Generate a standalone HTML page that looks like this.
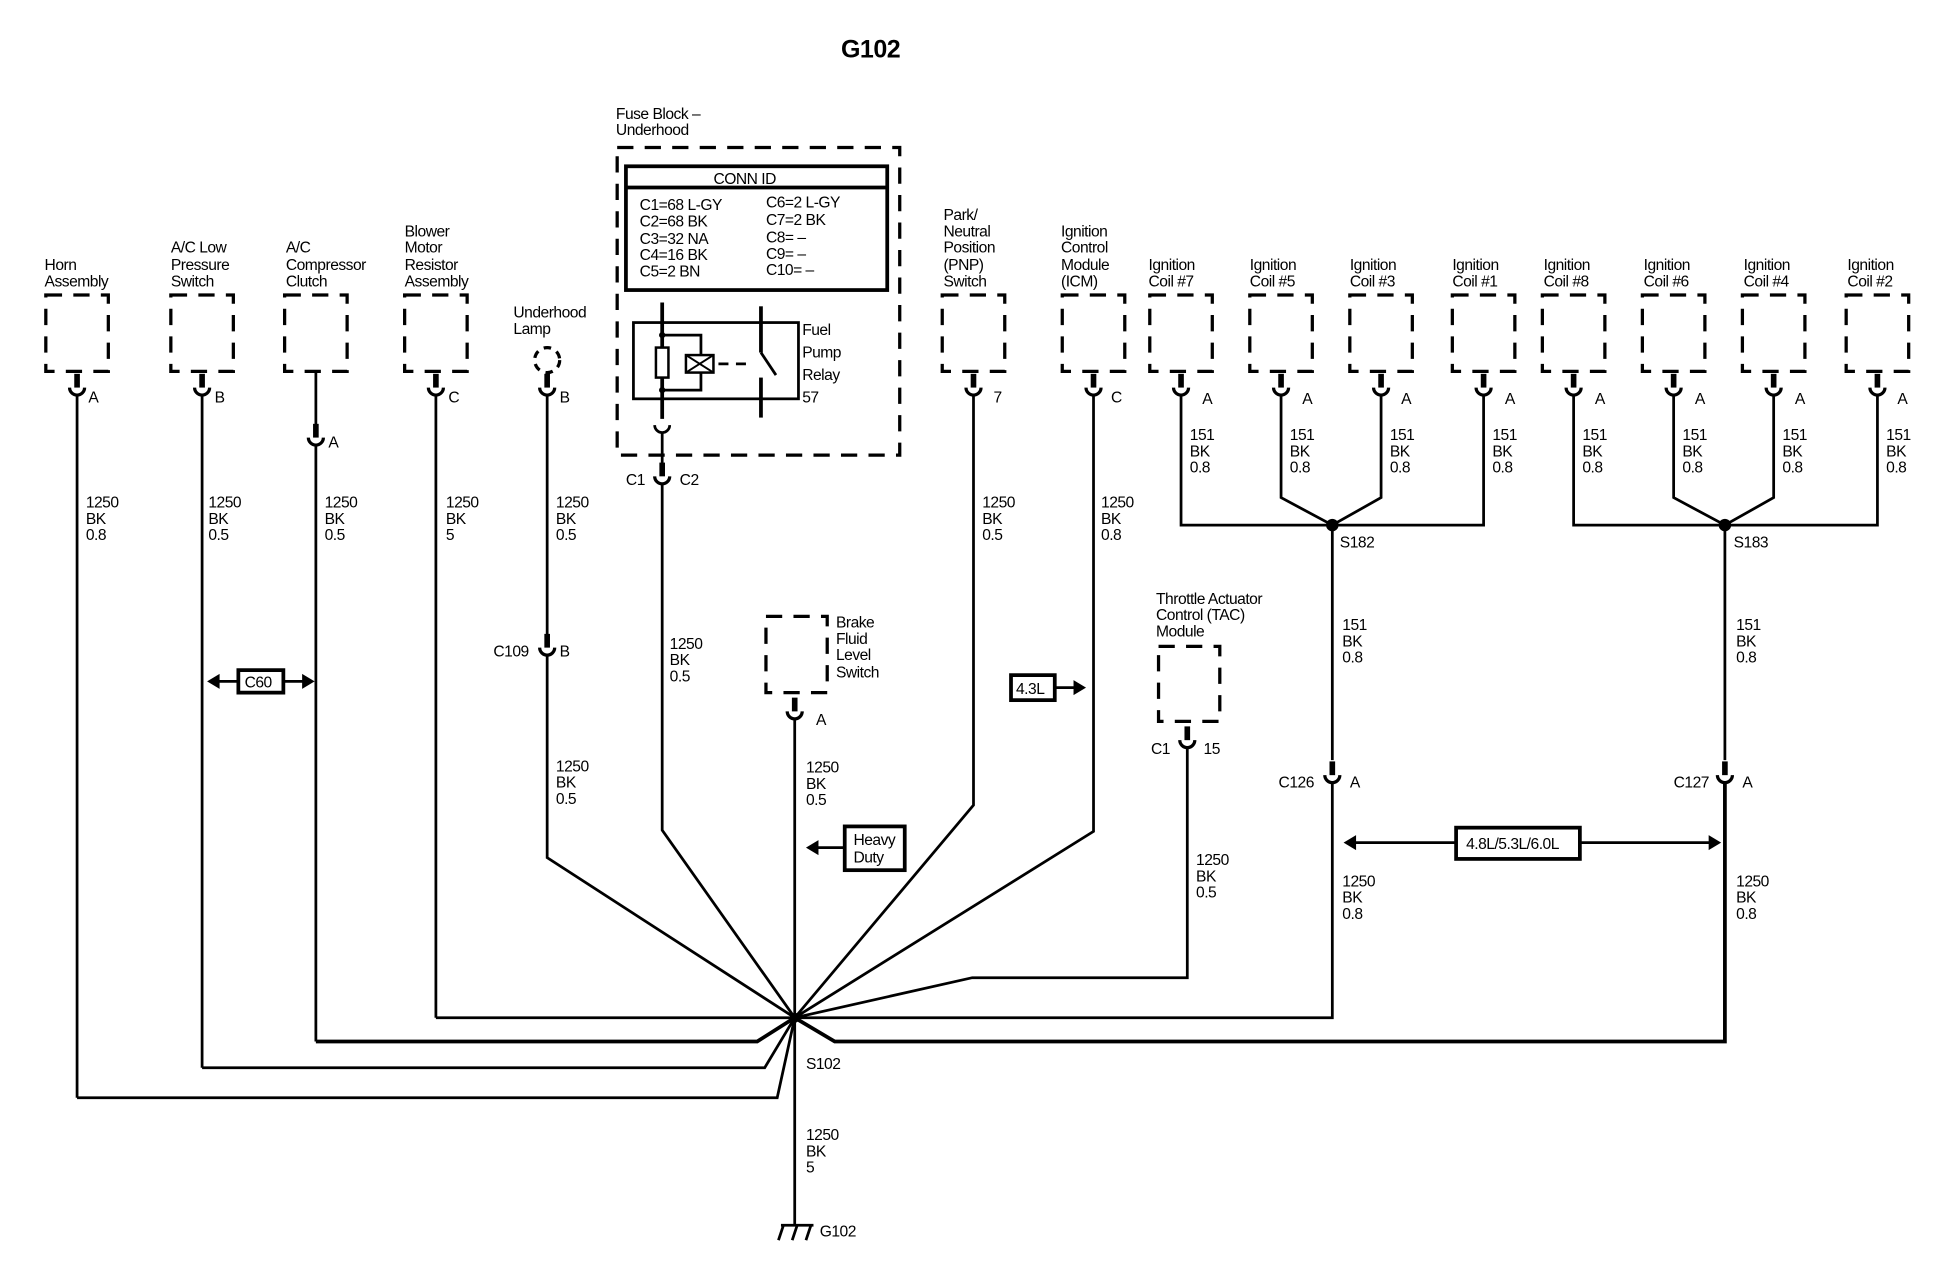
<!DOCTYPE html>
<html><head><meta charset="utf-8"><style>
html,body{margin:0;padding:0;background:#fff;}
svg{display:block;}
text{font-family:"Liberation Sans",Arial,sans-serif;font-size:12.5px;fill:#000;letter-spacing:-0.4px;}
.w{stroke:#000;stroke-width:2.2;fill:none;}
.t{stroke:#000;stroke-width:3;fill:none;}
.s{stroke:#000;stroke-width:4.5;fill:none;}
.d{stroke:#000;stroke-width:2.6;fill:none;stroke-dasharray:13 9;}
</style></head><body>
<svg width="1952" height="1264" viewBox="0 0 1560 1011" xmlns="http://www.w3.org/2000/svg">
<defs>
<g id="cup"><path d="M-6,0 A6,6 0 0 0 6,0" stroke="#000" stroke-width="2.6" fill="none"/><line x1="0" y1="-11" x2="0" y2="0" stroke="#000" stroke-width="4.5"/></g>
<g id="box"><rect x="-25" y="0" width="50" height="61" class="d"/></g>
</defs>
<text x="672" y="46" style="font-size:20px;font-weight:bold">G102</text>

<!-- left components -->
<text x="35" y="216">Horn</text><text x="35" y="229">Assembly</text>
<use href="#box" x="61" y="236"/><use href="#cup" x="61" y="310"/><text x="70" y="322">A</text>
<line class="w" x1="61" y1="316" x2="61" y2="878"/>
<text x="68" y="406">1250</text><text x="68" y="419">BK</text><text x="68" y="432">0.8</text>

<text x="136" y="202">A/C Low</text><text x="136" y="216">Pressure</text><text x="136" y="229">Switch</text>
<use href="#box" x="161" y="236"/><use href="#cup" x="161" y="310"/><text x="171" y="322">B</text>
<line class="w" x1="161" y1="316" x2="161" y2="854"/>
<text x="166" y="406">1250</text><text x="166" y="419">BK</text><text x="166" y="432">0.5</text>

<text x="228" y="202">A/C</text><text x="228" y="216">Compressor</text><text x="228" y="229">Clutch</text>
<use href="#box" x="252" y="236"/><line class="w" x1="252" y1="297" x2="252" y2="340"/>
<use href="#cup" x="252" y="350"/><text x="262" y="358">A</text>
<line class="w" x1="252" y1="356" x2="252" y2="833"/>
<text x="259" y="406">1250</text><text x="259" y="419">BK</text><text x="259" y="432">0.5</text>

<text x="323" y="189">Blower</text><text x="323" y="202">Motor</text><text x="323" y="216">Resistor</text><text x="323" y="229">Assembly</text>
<use href="#box" x="348" y="236"/><use href="#cup" x="348" y="310"/><text x="358" y="322">C</text>
<line class="w" x1="348" y1="316" x2="348" y2="814"/>
<text x="356" y="406">1250</text><text x="356" y="419">BK</text><text x="356" y="432">5</text>

<text x="410" y="254">Underhood</text><text x="410" y="267">Lamp</text>
<circle cx="437" cy="288" r="10" class="d" style="stroke-dasharray:6 5"/>
<use href="#cup" x="437" y="310"/><text x="447" y="322">B</text>
<line class="w" x1="437" y1="316" x2="437" y2="515"/>
<text x="444" y="406">1250</text><text x="444" y="419">BK</text><text x="444" y="432">0.5</text>
<use href="#cup" x="437" y="518"/><text x="394" y="525">C109</text><text x="447" y="525">B</text>
<polyline class="w" points="437,524 437,686 635,814"/>
<text x="444" y="617">1250</text><text x="444" y="630">BK</text><text x="444" y="643">0.5</text>

<!-- C60 -->
<rect x="190" y="536" width="36" height="18" class="t"/><text x="195" y="550">C60</text>
<line class="w" x1="172" y1="545" x2="190" y2="545"/><polygon points="165,545 175,539 175,551"/>
<line class="w" x1="226" y1="545" x2="244" y2="545"/><polygon points="251,545 241,539 241,551"/>

<!-- fuse block -->
<text x="492" y="95">Fuse Block –</text><text x="492" y="108">Underhood</text>
<rect x="493" y="118" width="226" height="246" class="d"/>
<rect x="500" y="133" width="209" height="99" class="t"/><line class="t" x1="500" y1="150" x2="709" y2="150"/>
<text x="570" y="147">CONN ID</text>
<text x="511" y="168">C1=68 L-GY</text><text x="511" y="181">C2=68 BK</text><text x="511" y="195">C3=32 NA</text><text x="511" y="208">C4=16 BK</text><text x="511" y="221">C5=2 BN</text>
<text x="612" y="166">C6=2 L-GY</text><text x="612" y="180">C7=2 BK</text><text x="612" y="194">C8= –</text><text x="612" y="207">C9= –</text><text x="612" y="220">C10= –</text>
<rect x="506" y="258" width="132" height="61" class="w"/>
<line class="t" x1="529" y1="242" x2="529" y2="335"/>
<rect x="524" y="278" width="10" height="24" fill="#fff" stroke="#000" stroke-width="2"/>
<circle cx="529" cy="268" r="2.5"/><circle cx="529" cy="312" r="2.5"/>
<polyline class="w" points="529,268 560,268 560,284"/><polyline class="w" points="529,312 560,312 560,298"/>
<rect x="548" y="284" width="22" height="14" fill="#fff" stroke="#000" stroke-width="2"/>
<line x1="548" y1="284" x2="570" y2="298" stroke="#000" stroke-width="1.6"/><line x1="570" y1="284" x2="548" y2="298" stroke="#000" stroke-width="1.6"/>
<line class="w" x1="574" y1="291" x2="600" y2="291" style="stroke-dasharray:8 6"/>
<line class="t" x1="608" y1="245" x2="608" y2="282"/><line class="w" x1="608" y1="282" x2="620" y2="300"/>
<line class="t" x1="608" y1="302" x2="608" y2="334"/>
<text x="641" y="268">Fuel</text><text x="641" y="286">Pump</text><text x="641" y="304">Relay</text><text x="641" y="322">57</text>
<path d="M523,340 A6,6 0 0 0 535,340" class="w"/>
<line class="w" x1="529" y1="346" x2="529" y2="371"/>
<use href="#cup" x="529" y="381"/><text x="500" y="388">C1</text><text x="543" y="388">C2</text>
<polyline class="w" points="529,387 529,664 635,814"/>
<text x="535" y="519">1250</text><text x="535" y="532">BK</text><text x="535" y="545">0.5</text>

<!-- brake -->
<rect x="612" y="493" width="49" height="61" class="d"/>
<text x="668" y="502">Brake</text><text x="668" y="515">Fluid</text><text x="668" y="528">Level</text><text x="668" y="542">Switch</text>
<use href="#cup" x="635" y="569"/><text x="652" y="580">A</text>
<line class="w" x1="635" y1="575" x2="635" y2="980"/>
<text x="644" y="618">1250</text><text x="644" y="631">BK</text><text x="644" y="644">0.5</text>
<rect x="675" y="661" width="48" height="35" class="t"/><text x="682" y="676">Heavy</text><text x="682" y="690">Duty</text>
<line class="w" x1="652" y1="678" x2="675" y2="678"/><polygon points="644,678 654,672 654,684"/>

<!-- PNP -->
<text x="754" y="176">Park/</text><text x="754" y="189">Neutral</text><text x="754" y="202">Position</text><text x="754" y="216">(PNP)</text><text x="754" y="229">Switch</text>
<use href="#box" x="778" y="236"/><use href="#cup" x="778" y="310"/><text x="794" y="322">7</text>
<polyline class="w" points="778,316 778,644 635,814"/>
<text x="785" y="406">1250</text><text x="785" y="419">BK</text><text x="785" y="432">0.5</text>

<!-- ICM -->
<text x="848" y="189">Ignition</text><text x="848" y="202">Control</text><text x="848" y="216">Module</text><text x="848" y="229">(ICM)</text>
<use href="#box" x="874" y="236"/><use href="#cup" x="874" y="310"/><text x="888" y="322">C</text>
<polyline class="w" points="874,316 874,665 635,814"/>
<text x="880" y="406">1250</text><text x="880" y="419">BK</text><text x="880" y="432">0.8</text>
<rect x="808" y="540" width="35" height="20" class="t"/><text x="812" y="555">4.3L</text>
<line class="w" x1="843" y1="550" x2="860" y2="550"/><polygon points="868,550 858,544 858,556"/>

<!-- TAC -->
<text x="924" y="483">Throttle Actuator</text><text x="924" y="496">Control (TAC)</text><text x="924" y="509">Module</text>
<rect x="926" y="517" width="49" height="60" class="d"/>
<use href="#cup" x="949" y="592"/><text x="920" y="603">C1</text><text x="962" y="603">15</text>
<polyline class="w" points="949,598 949,782 777,782 635,814"/>
<text x="956" y="692">1250</text><text x="956" y="705">BK</text><text x="956" y="718">0.5</text>

<!-- coils -->
<g>
<text x="918" y="216">Ignition</text><text x="918" y="229">Coil #7</text><use href="#box" x="944" y="236"/><use href="#cup" x="944" y="310"/><text x="961" y="323">A</text>
<text x="999" y="216">Ignition</text><text x="999" y="229">Coil #5</text><use href="#box" x="1024" y="236"/><use href="#cup" x="1024" y="310"/><text x="1041" y="323">A</text>
<text x="1079" y="216">Ignition</text><text x="1079" y="229">Coil #3</text><use href="#box" x="1104" y="236"/><use href="#cup" x="1104" y="310"/><text x="1120" y="323">A</text>
<text x="1161" y="216">Ignition</text><text x="1161" y="229">Coil #1</text><use href="#box" x="1186" y="236"/><use href="#cup" x="1186" y="310"/><text x="1203" y="323">A</text>
<text x="1234" y="216">Ignition</text><text x="1234" y="229">Coil #8</text><use href="#box" x="1258" y="236"/><use href="#cup" x="1258" y="310"/><text x="1275" y="323">A</text>
<text x="1314" y="216">Ignition</text><text x="1314" y="229">Coil #6</text><use href="#box" x="1338" y="236"/><use href="#cup" x="1338" y="310"/><text x="1355" y="323">A</text>
<text x="1394" y="216">Ignition</text><text x="1394" y="229">Coil #4</text><use href="#box" x="1418" y="236"/><use href="#cup" x="1418" y="310"/><text x="1435" y="323">A</text>
<text x="1477" y="216">Ignition</text><text x="1477" y="229">Coil #2</text><use href="#box" x="1501" y="236"/><use href="#cup" x="1501" y="310"/><text x="1517" y="323">A</text>
</g>
<polyline class="w" points="944,316 944,420 1186,420 1186,316"/>
<polyline class="w" points="1024,316 1024,398 1065,420 1104,398 1104,316"/>
<polyline class="w" points="1258,316 1258,420 1501,420 1501,316"/>
<polyline class="w" points="1338,316 1338,398 1379,420 1418,398 1418,316"/>
<circle cx="1065" cy="420" r="5"/><circle cx="1379" cy="420" r="5"/>
<text x="1071" y="438">S182</text><text x="1386" y="438">S183</text>
<g>
<text x="951" y="352">151</text><text x="951" y="365">BK</text><text x="951" y="378">0.8</text>
<text x="1031" y="352">151</text><text x="1031" y="365">BK</text><text x="1031" y="378">0.8</text>
<text x="1111" y="352">151</text><text x="1111" y="365">BK</text><text x="1111" y="378">0.8</text>
<text x="1193" y="352">151</text><text x="1193" y="365">BK</text><text x="1193" y="378">0.8</text>
<text x="1265" y="352">151</text><text x="1265" y="365">BK</text><text x="1265" y="378">0.8</text>
<text x="1345" y="352">151</text><text x="1345" y="365">BK</text><text x="1345" y="378">0.8</text>
<text x="1425" y="352">151</text><text x="1425" y="365">BK</text><text x="1425" y="378">0.8</text>
<text x="1508" y="352">151</text><text x="1508" y="365">BK</text><text x="1508" y="378">0.8</text>
</g>
<line class="w" x1="1065" y1="420" x2="1065" y2="608"/>
<text x="1073" y="504">151</text><text x="1073" y="517">BK</text><text x="1073" y="530">0.8</text>
<use href="#cup" x="1065" y="620"/><text x="1022" y="630">C126</text><text x="1079" y="630">A</text>
<polyline class="w" points="1065,626 1065,814 348,814"/>
<text x="1073" y="709">1250</text><text x="1073" y="722">BK</text><text x="1073" y="735">0.8</text>

<line class="w" x1="1379" y1="420" x2="1379" y2="608"/>
<text x="1388" y="504">151</text><text x="1388" y="517">BK</text><text x="1388" y="530">0.8</text>
<use href="#cup" x="1379" y="620"/><text x="1338" y="630">C127</text><text x="1393" y="630">A</text>
<polyline class="t" points="1379,626 1379,833 667,833 635,814"/>
<text x="1388" y="709">1250</text><text x="1388" y="722">BK</text><text x="1388" y="735">0.8</text>
<rect x="1164" y="662" width="99" height="25" class="t"/><text x="1172" y="679">4.8L/5.3L/6.0L</text>
<line class="w" x1="1082" y1="674" x2="1164" y2="674"/><polygon points="1074,674 1084,668 1084,680"/>
<line class="w" x1="1263" y1="674" x2="1368" y2="674"/><polygon points="1376,674 1366,668 1366,680"/>

<!-- left bottoms into splice -->
<polyline class="t" points="252,833 605,833 635,814"/>
<polyline class="w" points="161,854 611,854 635,814"/>
<polyline class="w" points="61,878 621,878 635,814"/>
<circle cx="635" cy="814" r="4"/>
<text x="644" y="855">S102</text>
<text x="644" y="912">1250</text><text x="644" y="925">BK</text><text x="644" y="938">5</text>
<line class="w" x1="624" y1="980" x2="650" y2="980"/>
<line class="w" x1="626" y1="980" x2="622" y2="992"/><line class="w" x1="637" y1="980" x2="633" y2="992"/><line class="w" x1="648" y1="980" x2="644" y2="992"/>
<text x="655" y="989">G102</text>
</svg>
</body></html>
